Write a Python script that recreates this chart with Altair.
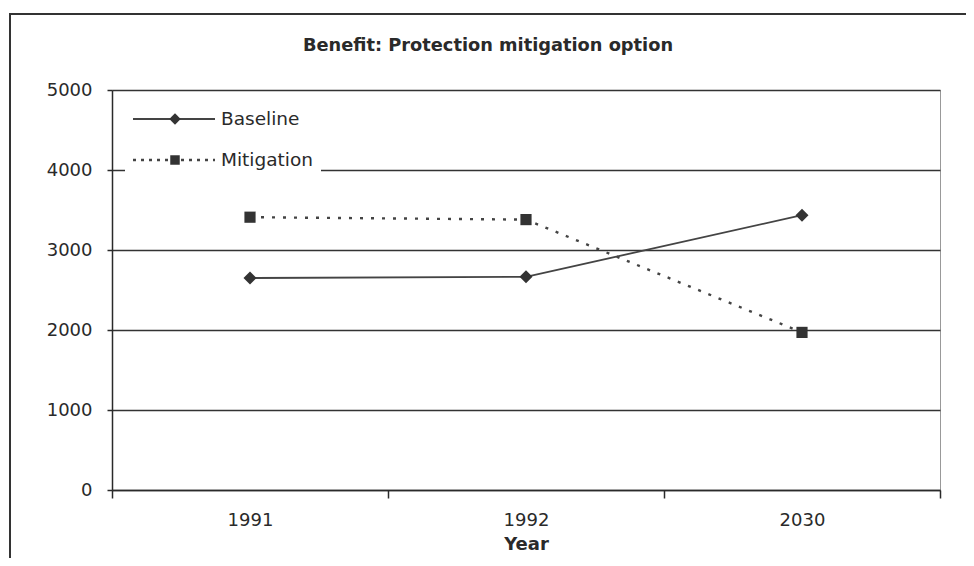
import altair as alt
import pandas as pd

# ---- data ----
years = ["1991", "1992", "2030"]
baseline = [2650, 2665, 3435]
mitigation = [3410, 3380, 1970]
series = ["Baseline", "Mitigation"]
y_ticks = [0, 1000, 2000, 3000, 4000, 5000]
title_text = "Benefit: Protection mitigation option"
x_title = "Year"

df = pd.DataFrame({
    "year": years * 2,
    "value": baseline + mitigation,
    "series": [series[0]] * len(years) + [series[1]] * len(years),
})

FONT = "DejaVu Sans"
INK = "#2a2a2a"
LINE = "#444444"
W, H = 828, 400

x_enc = alt.X(
    "year:N", sort=years, bandPosition=0.5,
    scale=alt.Scale(type="band", paddingInner=0, paddingOuter=0),
    axis=alt.Axis(title=x_title, labelAngle=0, tickBand="extent", tickSize=8,
                  labelPadding=13, titlePadding=6, titleFontWeight="bold", grid=False),
)
y_enc = alt.Y(
    "value:Q",
    scale=alt.Scale(domain=[0, 5000], nice=False),
    axis=alt.Axis(title=None, values=y_ticks, format="d", tickSize=5, labelPadding=15,
                  grid=True, gridColor="#333333", gridWidth=1.5),
)

base = alt.Chart(df)
base_line = base.transform_filter(alt.datum.series == series[0]).mark_line(
    color=LINE, strokeWidth=1.8).encode(x=x_enc, y=y_enc)
mit_line = base.transform_filter(alt.datum.series == series[1]).mark_line(
    color=LINE, strokeWidth=2.4, strokeDash=[3, 8]).encode(x=x_enc, y=y_enc)
base_pts = base.transform_filter(alt.datum.series == series[0]).mark_point(
    shape="diamond", filled=True, size=170, color="#333333", opacity=1).encode(x=x_enc, y=y_enc)
mit_pts = base.transform_filter(alt.datum.series == series[1]).mark_point(
    shape="square", filled=True, size=125, color="#333333", opacity=1).encode(x=x_enc, y=y_enc)

one = alt.Data(values=[{"k": 1}])

# legend (drawn inside the plot, top-left, on a white box)
leg_box = alt.Chart(one).mark_rect(fill="white", stroke=None).encode(
    x=alt.value(13), x2=alt.value(209), y=alt.value(5), y2=alt.value(95))
leg_l1 = alt.Chart(one).mark_rule(color=LINE, strokeWidth=1.8).encode(
    x=alt.value(21), x2=alt.value(103), y=alt.value(29))
leg_l2 = alt.Chart(one).mark_rule(color=LINE, strokeWidth=2.4, strokeDash=[3, 5]).encode(
    x=alt.value(21), x2=alt.value(103), y=alt.value(70))
leg_p1 = alt.Chart(one).mark_point(shape="diamond", filled=True, size=130, color="#333333", opacity=1).encode(
    x=alt.value(63), y=alt.value(29))
leg_p2 = alt.Chart(one).mark_point(shape="square", filled=True, size=90, color="#333333", opacity=1).encode(
    x=alt.value(63), y=alt.value(70))
leg_t1 = alt.Chart(one).mark_text(align="left", baseline="middle", font=FONT, fontSize=18.5, color=INK).encode(
    x=alt.value(109), y=alt.value(29), text=alt.value(series[0]))
leg_t2 = alt.Chart(one).mark_text(align="left", baseline="middle", font=FONT, fontSize=18.5, color=INK).encode(
    x=alt.value(109), y=alt.value(70), text=alt.value(series[1]))

title = alt.Chart(one).mark_text(align="center", baseline="middle", font=FONT, fontSize=17.8,
                                 fontWeight="bold", color=INK).encode(
    x=alt.value(376), y=alt.value(-44), text=alt.value(title_text))

frame = alt.Chart(one).mark_rect(fill=None, stroke="#333333", strokeWidth=2).encode(
    x=alt.value(-102), x2=alt.value(870), y=alt.value(-76), y2=alt.value(490))

chart = alt.layer(
    base_line, mit_line, base_pts, mit_pts,
    leg_box, leg_l1, leg_l2, leg_p1, leg_p2, leg_t1, leg_t2,
    title, frame,
).properties(
    width=W, height=H,
    autosize="none",
    padding={"left": 104, "top": 82, "right": 26, "bottom": 68},
    background="white",
).configure_axis(
    labelFont=FONT, labelFontSize=18, labelColor=INK,
    titleFont=FONT, titleFontSize=18, titleColor=INK,
    domainColor=INK, domainWidth=1.5, tickColor=INK, tickWidth=1.5,
).configure_view(stroke="#999999", strokeWidth=1)

chart.save("out.html", embed_options={"renderer": "svg", "actions": False})
